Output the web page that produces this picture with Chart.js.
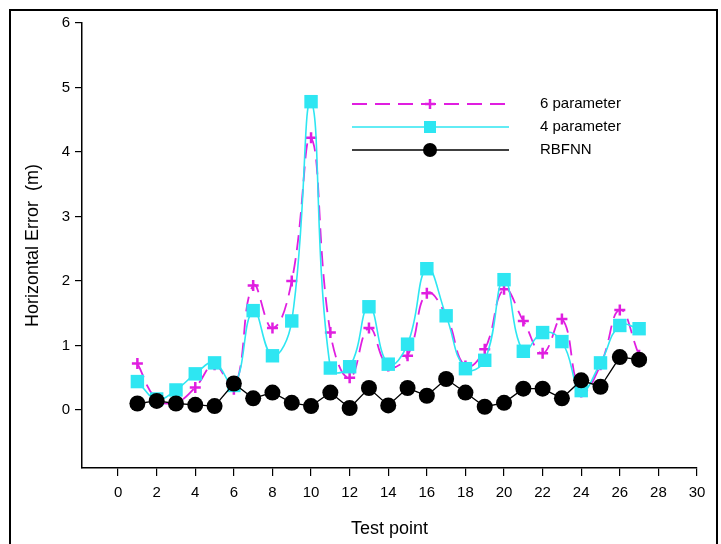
<!DOCTYPE html>
<html>
<head>
<meta charset="utf-8">
<script src="https://cdn.jsdelivr.net/npm/chart.js@4/dist/chart.umd.min.js"></script>
<style>
  html, body { margin: 0; padding: 0; background: #fff; }
  #wrap { position: relative; width: 721px; height: 544px; }
  #frame { position: absolute; left: 9px; top: 9px; width: 705px; height: 540px; border: 2px solid #000; }
  canvas { position: absolute; left: 0; top: 0; }
</style>
</head>
<body>
<div id="wrap">
  <div id="frame"></div>
  <canvas id="chart" width="721" height="544"></canvas>
</div>
<script>
// test points 1..27
const points = [1, 2, 3, 4, 5, 6, 7, 8, 9, 10, 11, 12, 13, 14, 15, 16, 17, 18, 19, 20, 21, 22, 23, 24, 25, 26, 27];
const sixParam = [0.72, 0.17, 0.12, 0.35, 0.70, 0.32, 1.93, 1.27, 2.00, 4.22, 1.20, 0.50, 1.27, 0.68, 0.84, 1.81, 1.46, 0.68, 0.94, 1.87, 1.38, 0.88, 1.41, 0.28, 0.70, 1.55, 0.85];
const fourParam = [0.44, 0.17, 0.31, 0.56, 0.73, 0.38, 1.54, 0.84, 1.38, 4.78, 0.65, 0.67, 1.60, 0.71, 1.02, 2.19, 1.46, 0.64, 0.77, 2.02, 0.91, 1.20, 1.06, 0.30, 0.73, 1.31, 1.26];
const rbfnn = [0.10, 0.14, 0.10, 0.08, 0.06, 0.41, 0.18, 0.27, 0.11, 0.06, 0.27, 0.03, 0.34, 0.07, 0.34, 0.22, 0.48, 0.27, 0.05, 0.11, 0.33, 0.33, 0.18, 0.46, 0.36, 0.82, 0.78];
const xTicks = [0, 2, 4, 6, 8, 10, 12, 14, 16, 18, 20, 22, 24, 26, 28, 30];
const yTicks = [0, 1, 2, 3, 4, 5, 6];

const MAGENTA = '#e01ee0';
const CYAN = '#2ee6f2';
const FONT = "'Liberation Sans', Arial, sans-serif";

function toXY(ys) {
    return ys.map((y, i) => ({ x: points[i], y: y }));
}

// legend drawn inside the plot like the original
const legendPlugin = {
    id: 'insideLegend',
    afterDatasetsDraw(chart) {
        const c = chart.ctx;
        const a = chart.chartArea;
        const x0 = a.left + 270, x1 = a.left + 427, xm = a.left + 348, tx = a.left + 458;
        const rows = [
            { y: a.top + 81, label: '6 parameter', ds: 0 },
            { y: a.top + 104, label: '4 parameter', ds: 1 },
            { y: a.top + 127, label: 'RBFNN', ds: 2 },
        ];
        c.save();
        rows.forEach(r => {
            const ds = chart.data.datasets[r.ds];
            c.strokeStyle = ds.borderColor;
            c.lineWidth = ds.borderWidth;
            c.setLineDash(ds.borderDash || []);
            c.beginPath();
            c.moveTo(x0, r.y);
            c.lineTo(x1, r.y);
            c.stroke();
            c.setLineDash([]);
            if (r.ds === 0) {
                c.strokeStyle = MAGENTA;
                c.lineWidth = 2.5;
                c.beginPath();
                c.moveTo(xm - 5, r.y); c.lineTo(xm + 5, r.y);
                c.moveTo(xm, r.y - 5); c.lineTo(xm, r.y + 5);
                c.stroke();
            } else if (r.ds === 1) {
                c.fillStyle = CYAN;
                c.fillRect(xm - 6, r.y - 6, 12, 12);
            } else {
                c.fillStyle = '#000';
                c.beginPath();
                c.arc(xm, r.y, 7, 0, Math.PI * 2);
                c.fill();
            }
            c.fillStyle = '#000';
            c.font = '15px ' + FONT;
            c.textBaseline = 'middle';
            c.fillText(r.label, tx, r.y);
        });
        c.restore();
    }
};

const chart = new Chart(document.getElementById('chart'), {
    type: 'line',
    data: {
        datasets: [
            {
                label: '6 parameter',
                data: toXY(sixParam),
                borderColor: MAGENTA,
                backgroundColor: MAGENTA,
                borderWidth: 1.8,
                borderDash: [15, 8],
                tension: 0.45,
                pointStyle: 'cross',
                pointRadius: 5.5,
                pointBorderWidth: 2.5,
                order: 2,
            },
            {
                label: '4 parameter',
                data: toXY(fourParam),
                borderColor: CYAN,
                backgroundColor: CYAN,
                borderWidth: 1.6,
                tension: 0.45,
                pointStyle: 'rect',
                pointRadius: 9.5,
                pointBorderWidth: 0,
                order: 1,
            },
            {
                label: 'RBFNN',
                data: toXY(rbfnn),
                borderColor: '#000',
                backgroundColor: '#000',
                borderWidth: 1.3,
                tension: 0,
                pointStyle: 'circle',
                pointRadius: 8,
                pointBorderWidth: 0,
                order: 0,
            },
        ],
    },
    options: {
        responsive: false,
        animation: false,
        events: [],
        layout: { padding: { left: 18, top: 23, right: 24, bottom: 0 } },
        plugins: {
            legend: { display: false },
            tooltip: { enabled: false },
        },
        scales: {
            x: {
                type: 'linear',
                min: -1.87,
                max: 30,
                afterBuildTicks: s => { s.ticks = xTicks.map(v => ({ value: v })); },
                afterFit: s => { s.height = 76; },
                border: { display: true, color: '#000', width: 1.5 },
                grid: { drawOnChartArea: false, drawTicks: true, tickLength: 8, color: '#000', lineWidth: 1.2 },
                ticks: { color: '#000', font: { family: FONT, size: 15 }, padding: 8, maxRotation: 0, autoSkip: false },
                title: { display: true, text: 'Test point', color: '#000', font: { family: FONT, size: 18 }, padding: { top: 4, bottom: 4 } },
            },
            y: {
                min: -0.9,
                max: 6,
                afterBuildTicks: s => { s.ticks = yTicks.map(v => ({ value: v })); },
                afterFit: s => { s.width = 64; },
                border: { display: true, color: '#000', width: 1.5 },
                grid: { drawOnChartArea: false, drawTicks: true, tickLength: 7, color: '#000', lineWidth: 1.2 },
                ticks: { color: '#000', font: { family: FONT, size: 15 }, padding: 5 },
                title: { display: true, text: 'Horizontal Error  (m)', color: '#000', font: { family: FONT, size: 18 }, padding: { top: 4, bottom: 4 } },
            },
        },
    },
    plugins: [legendPlugin],
});
</script>
</body>
</html>
